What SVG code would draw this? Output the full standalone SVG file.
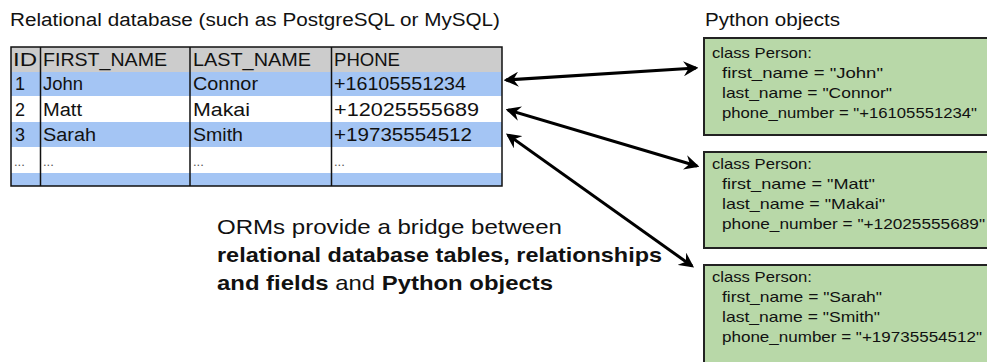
<svg xmlns="http://www.w3.org/2000/svg" width="987" height="362" viewBox="0 0 987 362">
<style>
text{font-family:"Liberation Sans","DejaVu Sans",sans-serif;fill:#111}
.t{font-size:18px}
.c{font-size:15px}
.d{font-size:13px;fill:#555}
.m{font-size:21px}
.b{font-weight:bold}
.grid{stroke:#111;stroke-width:1.5;fill:none}
.box{fill:#b8d8a8;stroke:#222;stroke-width:2}
.arr{stroke:#000;stroke-width:3;fill:none;marker-start:url(#h);marker-end:url(#h)}
</style>
<defs>
<marker id="h" viewBox="0 0 12 12" refX="10" refY="6" markerWidth="5" markerHeight="5" orient="auto-start-reverse" markerUnits="strokeWidth">
<path d="M0,0 L12,6 L0,12 L4,6 Z" fill="#000"/>
</marker>
</defs>
<text class="t" x="10" y="26" textLength="490" lengthAdjust="spacingAndGlyphs">Relational database (such as PostgreSQL or MySQL)</text>
<text class="t" x="705" y="26" textLength="135" lengthAdjust="spacingAndGlyphs">Python objects</text>
<g id="table">
<rect x="11" y="47" width="491" height="25" fill="#cccccc"/>
<rect x="11" y="72" width="491" height="24" fill="#a4c5f4"/>
<rect x="11" y="96" width="491" height="26" fill="#ffffff"/>
<rect x="11" y="122" width="491" height="25" fill="#a4c5f4"/>
<rect x="11" y="147" width="491" height="26" fill="#ffffff"/>
<rect x="11" y="173" width="491" height="13" fill="#a4c5f4"/>
<rect class="grid" x="11" y="47" width="491" height="139" stroke-width="2"/>
<line class="grid" x1="40.5" y1="47" x2="40.5" y2="186"/>
<line class="grid" x1="190" y1="47" x2="190" y2="186"/>
<line class="grid" x1="331.5" y1="47" x2="331.5" y2="186"/>
<text class="t" x="13" y="66" textLength="24" lengthAdjust="spacingAndGlyphs">ID</text>
<text class="t" x="43" y="66" textLength="124" lengthAdjust="spacingAndGlyphs">FIRST_NAME</text>
<text class="t" x="193" y="66" textLength="118" lengthAdjust="spacingAndGlyphs">LAST_NAME</text>
<text class="t" x="334" y="66" textLength="66" lengthAdjust="spacingAndGlyphs">PHONE</text>
<text class="t" x="15" y="90">1</text>
<text class="t" x="43" y="90" textLength="40" lengthAdjust="spacingAndGlyphs">John</text>
<text class="t" x="193" y="90" textLength="65" lengthAdjust="spacingAndGlyphs">Connor</text>
<text class="t" x="334" y="90" textLength="132" lengthAdjust="spacingAndGlyphs">+16105551234</text>
<text class="t" x="15" y="116">2</text>
<text class="t" x="43" y="116" textLength="39" lengthAdjust="spacingAndGlyphs">Matt</text>
<text class="t" x="193" y="116" textLength="57" lengthAdjust="spacingAndGlyphs">Makai</text>
<text class="t" x="334" y="116" textLength="145" lengthAdjust="spacingAndGlyphs">+12025555689</text>
<text class="t" x="15" y="141">3</text>
<text class="t" x="43" y="141" textLength="53" lengthAdjust="spacingAndGlyphs">Sarah</text>
<text class="t" x="193" y="141" textLength="50" lengthAdjust="spacingAndGlyphs">Smith</text>
<text class="t" x="334" y="141" textLength="138" lengthAdjust="spacingAndGlyphs">+19735554512</text>
<text class="d" x="14" y="166">...</text>
<text class="d" x="43" y="166">...</text>
<text class="d" x="193" y="166">...</text>
<text class="d" x="334" y="166">...</text>
</g>
<g id="obj1">
<rect class="box" x="704" y="38" width="290" height="97"/>
<text class="c" x="712" y="58" textLength="100" lengthAdjust="spacingAndGlyphs">class Person:</text>
<text class="c" x="722" y="78" textLength="161" lengthAdjust="spacingAndGlyphs">first_name = "John"</text>
<text class="c" x="722" y="98" textLength="170" lengthAdjust="spacingAndGlyphs">last_name = "Connor"</text>
<text class="c" x="722" y="118" textLength="255" lengthAdjust="spacingAndGlyphs">phone_number = "+16105551234"</text>
</g>
<g id="obj2">
<rect class="box" x="704" y="152" width="290" height="96"/>
<text class="c" x="712" y="169" textLength="100" lengthAdjust="spacingAndGlyphs">class Person:</text>
<text class="c" x="722" y="189" textLength="153" lengthAdjust="spacingAndGlyphs">first_name = "Matt"</text>
<text class="c" x="722" y="209" textLength="163" lengthAdjust="spacingAndGlyphs">last_name = "Makai"</text>
<text class="c" x="722" y="229" textLength="263" lengthAdjust="spacingAndGlyphs">phone_number = "+12025555689"</text>
</g>
<g id="obj3">
<rect class="box" x="704" y="265" width="290" height="110"/>
<text class="c" x="712" y="282" textLength="100" lengthAdjust="spacingAndGlyphs">class Person:</text>
<text class="c" x="722" y="302" textLength="160" lengthAdjust="spacingAndGlyphs">first_name = "Sarah"</text>
<text class="c" x="722" y="322" textLength="158" lengthAdjust="spacingAndGlyphs">last_name = "Smith"</text>
<text class="c" x="722" y="342" textLength="260" lengthAdjust="spacingAndGlyphs">phone_number = "+19735554512"</text>
</g>
<g id="caption">
<text class="m" x="217" y="234" textLength="345" lengthAdjust="spacingAndGlyphs">ORMs provide a bridge between</text>
<text class="m b" x="217" y="262" textLength="445" lengthAdjust="spacingAndGlyphs">relational database tables, relationships</text>
<text class="m" x="217" y="290" textLength="336" lengthAdjust="spacingAndGlyphs"><tspan class="b">and fields</tspan> and <tspan class="b">Python objects</tspan></text>
</g>
<g id="connectors">
<line class="arr" x1="506" y1="80" x2="696" y2="68"/>
<line class="arr" x1="508" y1="110" x2="697" y2="166"/>
<line class="arr" x1="508" y1="135" x2="692" y2="266"/>
</g>
</svg>
